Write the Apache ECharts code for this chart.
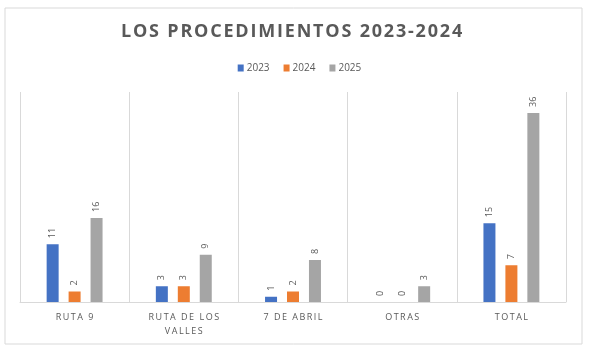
<!DOCTYPE html>
<html>
<head>
<meta charset="utf-8">
<script src="https://cdn.jsdelivr.net/npm/echarts@6/dist/echarts.min.js"></script>
<style>
  html, body { margin: 0; padding: 0; background: #fff; }
  #chart { width: 599px; height: 352px; }
</style>
</head>
<body>
<div id="chart"></div>
<script>
// datos
var titulo = 'LOS PROCEDIMIENTOS 2023-2024';
var categorias = ['RUTA 9', 'RUTA DE LOS\nVALLES', '7 DE ABRIL', 'OTRAS', 'TOTAL'];
var anios = ['2023', '2024', '2025'];
var v2023 = [11, 3, 1, 0, 15];
var v2024 = [2, 3, 2, 0, 7];
var v2025 = [16, 9, 8, 3, 36];
var colores = ['#4472C4', '#ED7D31', '#A5A5A5'];

// separa las letras para imitar el espaciado de Excel
function espaciar(txt, sep) {
    return txt.split('\n').map(function (l) {
        return l.split('').join(sep || '\u2009');
    }).join('\n');
}

var myChart = echarts.init(document.getElementById('chart'));

var serieBase = function (nombre, datos, i) {
    return {
        name: nombre,
        type: 'bar',
        data: datos,
        barWidth: 12,
        barGap: '83%',
        itemStyle: { color: colores[i] },
        label: {
            show: true,
            position: 'top',
            rotate: 90,
            align: 'left',
            verticalAlign: 'middle',
            distance: 6,
            color: '#595959',
            fontSize: 9,
            fontFamily: 'Open Sans'
        }
    };
};

myChart.setOption({
    animation: false,
    textStyle: { fontFamily: 'Open Sans' },
    title: {
        text: espaciar(titulo, '\u200A'),
        left: 116,
        top: 18,
        textStyle: {
            fontSize: 18,
            fontWeight: 'bold',
            color: '#595959',
            fontFamily: 'Open Sans'
        }
    },
    legend: {
        data: anios,
        top: 58,
        left: 'center',
        itemWidth: 6,
        itemHeight: 7,
        itemGap: 14,
        icon: 'rect',
        textStyle: { fontSize: 10, color: '#595959', padding: [0, 0, 0, -2] }
    },
    graphic: [{
        type: 'rect',
        shape: { x: 5, y: 8, width: 577, height: 336 },
        style: { fill: 'none', stroke: '#d9d9d9', lineWidth: 1 },
        silent: true
    }],
    grid: { left: 20, right: 33, top: 92, bottom: 50 },
    xAxis: {
        type: 'category',
        data: categorias,
        axisTick: { show: false },
        axisLine: { lineStyle: { color: '#d9d9d9' } },
        splitLine: { show: true, lineStyle: { color: '#d9d9d9' } },
        axisLabel: {
            color: '#595959',
            fontSize: 9,
            margin: 8,
            lineHeight: 14,
            formatter: function (v) { return espaciar(v); }
        }
    },
    yAxis: {
        type: 'value',
        min: 0,
        max: 40,
        show: false,
        splitLine: { show: false }
    },
    series: [
        serieBase(anios[0], v2023, 0),
        serieBase(anios[1], v2024, 1),
        serieBase(anios[2], v2025, 2)
    ]
});
</script>
</body>
</html>
